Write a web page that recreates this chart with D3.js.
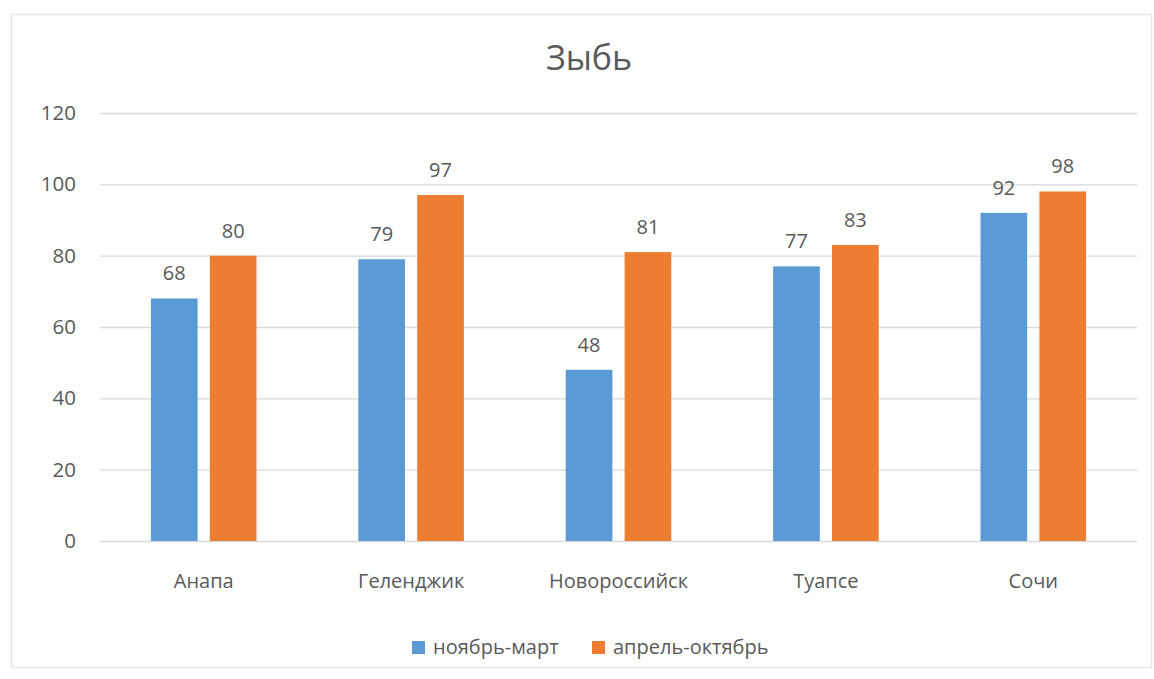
<!DOCTYPE html>
<html>
<head>
<meta charset="utf-8">
<script src="https://cdn.jsdelivr.net/npm/d3@7"></script>
<style>
  html, body { margin: 0; padding: 0; background: #fff; }
  svg { display: block; font-family: "Open Sans", "Noto Sans", sans-serif; }
</style>
</head>
<body>
<svg id="chart" width="1154" height="679"></svg>
<script>
// Swell frequency by port and season
const title = "Зыбь";
const categories = ["Анапа", "Геленджик", "Новороссийск", "Туапсе", "Сочи"];
const seriesNames = ["ноябрь-март", "апрель-октябрь"];
const winterValues = [68, 79, 48, 77, 92];
const summerValues = [80, 97, 81, 83, 98];
const yTicks = [0, 20, 40, 60, 80, 100, 120];
const colors = ["#5B9BD5", "#ED7D31"];

const series = [winterValues, summerValues];
const svg = d3.select("#chart");
const textColor = "#595959";

// outer frame
svg.append("rect")
  .attr("x", 11.5).attr("y", 14.5)
  .attr("width", 1140).attr("height", 653)
  .attr("fill", "#fff").attr("stroke", "#e6e6e6").attr("stroke-width", 1.5);

const plot = { left: 100, right: 1137, top: 113, bottom: 541 };

const x = d3.scaleBand().domain(categories).range([plot.left, plot.right]).paddingInner(0).paddingOuter(0);
const y = d3.scaleLinear().domain([0, 120]).range([plot.bottom, plot.top]);

// bar layout inside each category band
const barW = x.bandwidth() * 0.225;
const barGap = x.bandwidth() * 0.059;

// title
svg.append("text")
  .attr("x", 589).attr("y", 70)
  .attr("text-anchor", "middle")
  .attr("font-size", 34).attr("fill", textColor)
  .text(title);

// value axis with gridlines
const yAxis = d3.axisLeft(y).tickValues(yTicks).tickSize(-(plot.right - plot.left)).tickPadding(24);
const gy = svg.append("g").attr("transform", `translate(${plot.left},0)`).call(yAxis);
gy.select(".domain").remove();
gy.selectAll(".tick line").attr("stroke", "#d9d9d9").attr("stroke-width", 1.3);
gy.selectAll(".tick text").attr("font-size", 20.5).attr("fill", textColor)
  .attr("font-family", "'Open Sans', sans-serif");

// category axis labels
const xAxis = d3.axisBottom(x).tickSize(0).tickPadding(33);
const gx = svg.append("g").attr("transform", `translate(0,${plot.bottom})`).call(xAxis);
gx.select(".domain").remove();
gx.selectAll(".tick text").attr("font-size", 20).attr("fill", textColor)
  .attr("font-family", "'Open Sans', sans-serif");

// bars with value labels
series.forEach((vals, si) => {
  const g = svg.append("g");
  const bx = c => x(c) + x.bandwidth() / 2 + (si === 0 ? -barGap / 2 - barW : barGap / 2);
  g.selectAll("rect").data(categories).join("rect")
    .attr("x", c => bx(c))
    .attr("y", (c, i) => y(vals[i]))
    .attr("width", barW)
    .attr("height", (c, i) => y(0) - y(vals[i]))
    .attr("fill", colors[si]);
  g.selectAll("text").data(categories).join("text")
    .attr("x", c => bx(c) + barW / 2)
    .attr("y", (c, i) => y(vals[i]) - 18)
    .attr("text-anchor", "middle")
    .attr("font-size", 20).attr("fill", textColor)
    .text((c, i) => vals[i]);
});

// legend
const legendItems = [
  { name: seriesNames[0], color: colors[0], x: 412 },
  { name: seriesNames[1], color: colors[1], x: 592 }
];
const lg = svg.append("g");
legendItems.forEach(it => {
  lg.append("rect").attr("x", it.x).attr("y", 641).attr("width", 13).attr("height", 13).attr("fill", it.color);
  lg.append("text").attr("x", it.x + 21).attr("y", 654)
    .attr("font-size", 20).attr("fill", textColor).text(it.name);
});
</script>
</body>
</html>
